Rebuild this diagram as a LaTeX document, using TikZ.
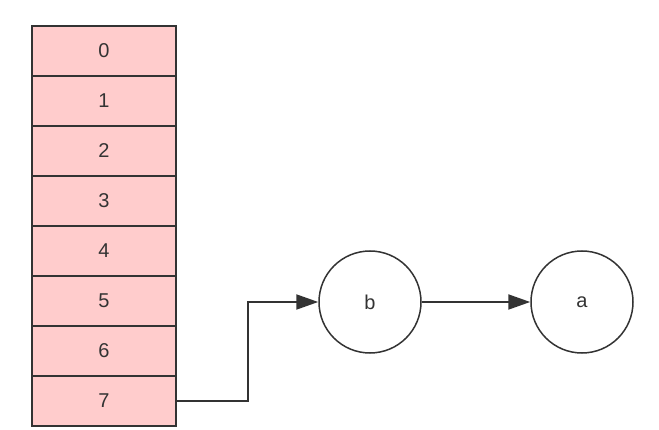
\documentclass[tikz,border=0pt]{standalone}
\usepackage{fontspec}
\setmainfont{Liberation Sans}
\usetikzlibrary{arrows.meta}
\definecolor{cellfill}{HTML}{FFCCCC}
\definecolor{ink}{HTML}{333333}
\begin{document}
\begin{tikzpicture}[x=1pt,y=-1pt,
  cell/.style={draw=ink,line width=1.5pt,fill=cellfill,minimum width=144pt,minimum height=50pt,inner sep=0pt,font=\fontsize{20}{24}\selectfont,text=ink},
  circ/.style={circle,draw=ink,line width=1.5pt,minimum size=102pt,inner sep=0pt,font=\fontsize{20}{24}\selectfont,text=ink},
  conn/.style={draw=ink,line width=2pt,-{Triangle[length=22pt,width=15pt]}}]
\useasboundingbox (0,0) rectangle (659,430);
\foreach \i in {0,...,7} {
  \node[cell] (c\i) at (104,{51+50*\i}) {\i};
}
\node[circ] (b) at (370,302) {b};
\node[circ] (a) at (582,302) {a};
\draw[conn] (c7.east) -- ++(71,0) |- (b.west);
\draw[conn] (b.east) -- (a.west);
\end{tikzpicture}
\end{document}
